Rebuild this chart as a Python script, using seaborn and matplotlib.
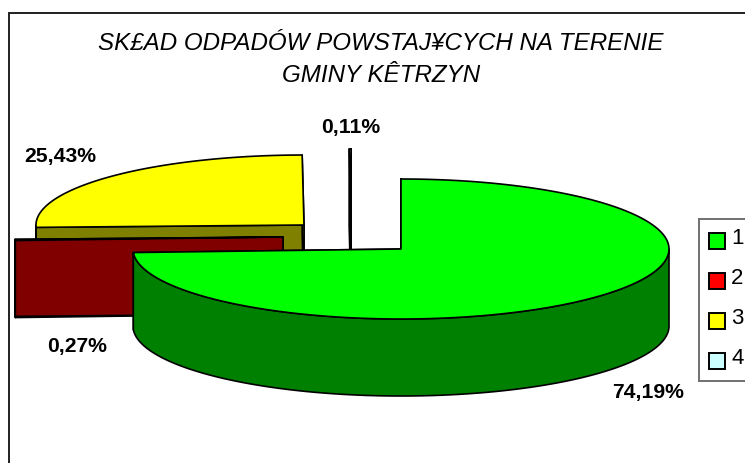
import numpy as np
import matplotlib
matplotlib.use('Agg')
import matplotlib.pyplot as plt
from matplotlib.patches import Polygon, Rectangle
import seaborn as sns

# Chart data (slices run clockwise from 12 o'clock)
categories = ['1', '2', '3', '4']
values = [74.19, 0.27, 25.43, 0.11]
value_labels = ['74,19%', '0,27%', '25,43%', '0,11%']
top_colors = ['#00FF00', '#FF0000', '#FFFF00', '#CCFFFF']
wall_colors = ['#008000', '#800000', '#808000', '#668080']
title_text = 'SK£AD ODPADÓW POWSTAJ¥CYCH NA TERENIE\nGMINY KÊTRZYN'

# Layout of the fake 3D pie, in pixels of the picture
centers = [(401, 250), (283, 238), (304, 226), (351, 220)]
label_xy = [(648, 393), (77, 347), (60, 157), (351, 127)]
rx, ry, depth = 268, 70, 77
draw_order = [2, 3, 1, 0]
W, H = 745, 464

sns.set_theme(style='white')
plt.rcParams['font.family'] = ['Liberation Sans', 'DejaVu Sans']


def rim(center, a0, a1):
    # Points along the ellipse between two clockwise angles (degrees from north)
    t = np.radians(np.linspace(a0, a1, max(int(abs(a1 - a0) * 2), 2)))
    return np.column_stack([center[0] + rx * np.sin(t), center[1] - ry * np.cos(t)])


def draw_slice(ax, i, a0, a1):
    c = np.array(centers[i], dtype=float)
    style = dict(edgecolor='black', linewidth=1.2, joinstyle='round')
    pts = rim(c, a0, a1)
    down = np.array([0, depth])

    # Cut faces first, the one facing us drawn last
    for edge in (pts[0], pts[-1]):
        face = [c, edge, edge + down, c + down]
        ax.add_patch(Polygon(face, facecolor=wall_colors[i], **style))

    # Outer wall, only the part on the near side of the ellipse
    lo, hi = max(a0, 90), min(a1, 270)
    if hi > lo:
        near = rim(c, lo, hi)
        wall = np.vstack([near, (near + down)[::-1]])
        ax.add_patch(Polygon(wall, facecolor=wall_colors[i], **style))

    # Top face
    top = np.vstack([c, pts])
    ax.add_patch(Polygon(top, facecolor=top_colors[i], **style))


def visualize():
    fig = plt.figure(figsize=(W / 100, H / 100), dpi=100)
    ax = fig.add_axes([0, 0, 1, 1])
    ax.set_xlim(0, W)
    ax.set_ylim(H, 0)
    ax.axis('off')

    # Chart frame runs off the right and bottom of the picture
    ax.add_patch(Rectangle((9, 14), W, H, facecolor='white', edgecolor='#202020', linewidth=1.4))

    # Slice angles come from the values
    edges = np.cumsum([0] + values) / sum(values) * 360
    for i in draw_order:
        draw_slice(ax, i, edges[i], edges[i + 1])

    for i, label in enumerate(value_labels):
        ax.text(label_xy[i][0], label_xy[i][1], label, ha='center', va='center',
                fontsize=15.2, fontweight='bold', color='black')

    ax.text(381, 59, title_text, ha='center', va='center', fontsize=17.4, fontstyle='italic',
            color='black', linespacing=1.5)

    # Legend box, also cut by the right edge
    ax.add_patch(Rectangle((699, 220), 80, 162, facecolor='white', edgecolor='#707070', linewidth=1.4))
    for i, name in enumerate(categories):
        y = 241.5 + i * 40
        ax.add_patch(Rectangle((709, y - 8), 16, 16, facecolor=top_colors[i],
                               edgecolor='black', linewidth=1.4))
        ax.text(731, y - 2.5, name, ha='left', va='center', fontsize=16, color='black')

    fig.savefig('out.png', dpi=100)


if __name__ == '__main__':
    visualize()
